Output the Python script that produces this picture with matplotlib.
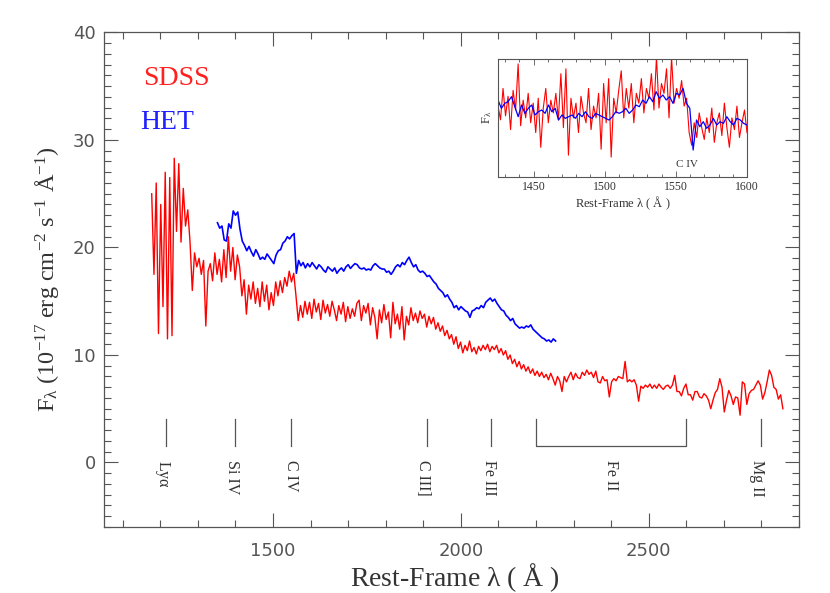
import numpy as np
import matplotlib
matplotlib.use("Agg")
import matplotlib.pyplot as plt
from matplotlib.ticker import MultipleLocator

# ---------------- data ----------------
SDSS_START = 1177.0   # Angstrom
SDSS_STEP = 6.0
sdss_flux = [
    # 1177 -
    25.0, 17.5, 26.0, 12.0, 24.0, 14.5, 27.0, 11.5, 26.5, 11.8,
    28.3, 21.5, 27.8, 20.5, 25.5, 22.0, 23.5, 20.5,
    # 1285 -
    16.0, 19.5, 18.2, 19.0, 17.5, 18.8, 12.7, 17.8, 18.5, 16.9,
    19.5, 17.5, 18.9, 16.8, 19.8, 17.2, 21.0, 17.8, 20.0, 17.0,
    19.3, 18.2,
    # 1417 -
    15.5, 17.0, 13.8, 16.5, 15.2, 16.8, 14.8, 16.2, 14.5, 16.8,
    15.0, 16.5, 14.2, 15.8, 14.6, 16.8, 15.5, 16.9, 15.8, 17.2,
    16.4, 17.8, 16.8, 17.6,
    # 1561 -
    15.5, 13.2, 14.6, 13.5, 15.0, 13.8, 14.9, 13.4, 15.2, 14.0,
    14.8, 13.3, 15.1, 13.9, 14.7, 13.6, 15.0, 14.2, 13.2, 14.6,
    13.8, 14.9, 13.1, 14.5, 13.4,
    # 1711 -
    14.3, 13.6, 14.8, 15.1, 13.2, 14.6, 13.9, 14.8, 12.8, 14.4,
    13.5, 11.5, 14.2, 13.0, 14.7, 13.3, 14.0, 11.6, 14.9, 12.9,
    13.8, 12.4, 14.5, 11.4, 13.6, 12.8, 14.4, 13.2, 13.9, 13.0,
    14.1, 13.4, 13.8, 12.6, 13.6, 12.9, 13.5, 12.4, 13.0, 12.2,
    # 1951 -
    12.7, 11.8, 12.3, 11.5, 11.9, 11.0, 11.7, 10.6, 11.2, 10.2,
    10.9, 10.4, 11.3, 10.3, 10.7, 10.1, 10.8, 10.4, 10.9, 10.5,
    11.0, 10.3, 10.8, 10.5, 10.9, 10.2, 10.6, 10.0, 10.4, 9.6,
    10.0, 9.2, 9.6, 8.9, 9.4, 8.7, 9.1, 8.5, 8.9, 8.3,
    8.7, 8.1, 8.5, 8.0, 8.4, 7.9, 8.2, 7.7, 8.3, 7.8,
    7.2, 8.0, 7.6,
    # 2269 -
    6.6, 8.0, 7.5, 8.0, 8.4, 7.7, 8.3, 7.9, 7.8, 8.4,
    8.1, 8.6, 8.2, 8.4, 7.9, 8.5, 7.5, 7.4, 8.0, 7.6,
    7.7, 6.1, 7.5, 7.8, 7.6, 8.0, 7.9, 7.8, 9.4, 7.5,
    7.7, 7.5, 7.7, 7.2, 5.7, 7.1, 6.9, 7.2, 7.0, 7.3,
    # 2509 -
    6.9, 7.2, 6.9, 7.3, 7.0, 6.8, 7.1, 7.2, 6.9, 7.2,
    8.1, 6.6, 6.6, 6.2, 6.9, 7.3, 6.3, 6.3, 5.8, 6.6,
    6.6, 6.1, 6.0, 6.4, 6.2, 5.8, 5.0, 5.8, 6.5, 6.8,
    7.8, 7.0, 4.7, 5.8, 6.7, 6.2, 5.4, 6.1, 6.0, 4.4,
    # 2749 -
    7.5, 7.3, 5.4, 6.4, 6.7, 6.8, 7.2, 7.6, 7.2, 5.9,
    6.5, 7.5, 8.6, 8.1, 7.0, 6.8, 5.9, 6.3, 5.0,
]

HET_START = 1352.0
HET_STEP = 6.0
het_flux = [
    # 1352 -
    22.3, 21.8, 22.0, 20.7, 20.6, 22.2, 21.8, 23.4, 23.0, 23.3,
    21.7, 20.6, 20.2, 19.7, 20.1, 19.6, 19.2, 19.8, 19.4, 18.9,
    19.1, 18.9, 19.4, 19.1, 18.8, 18.5, 19.3, 19.7, 19.8, 20.4,
    20.6, 21.0, 20.8, 21.1, 21.3, 17.6, 18.8, 18.3, 18.6, 18.1,
    18.5, 18.2, 18.6, 18.3, 18.0, 18.4, 18.2, 17.9, 17.7, 18.2,
    18.0, 17.8, 18.1, 17.6, 17.9, 18.1, 17.8, 18.2, 18.4,
    # 1706 -
    18.05, 18.3, 18.5, 18.4, 18.1, 18.0, 18.1, 17.9, 18.0, 17.9,
    18.3, 18.5, 18.3, 18.1, 18.0, 18.0, 17.7, 17.8, 17.5, 17.8,
    18.2, 18.4, 18.2, 18.6, 18.4, 18.8, 19.1, 18.6, 18.2, 18.4,
    17.9, 17.7, 17.8, 17.6, 17.3, 17.4, 17.1, 16.8, 16.6, 16.2,
    16.0, 15.8, 15.4, 15.6, 15.2, 14.9, 14.4, 14.6, 14.2, 14.5,
    14.3, 14.1, 14.0, 13.5, 14.1, 14.2, 14.4, 14.3, 14.6, 14.4,
    14.9, 15.1, 15.3, 15.0, 15.2, 14.8, 14.5, 14.2, 14.1, 13.7,
    13.5, 13.2, 13.4, 12.9, 12.7, 12.5, 12.6, 12.5, 12.7, 12.6,
    12.8, 12.4, 12.2, 12.0, 11.8, 11.6, 11.5, 11.3, 11.4, 11.2,
    11.5, 11.3,
]

# inset (normalised flux, 1425-1600 A)
inset_red = [
    1.12, 0.98, 1.30, 1.02, 1.22, 0.88, 1.28, 1.08, 1.55, 0.92,
    1.18, 1.00, 1.25, 0.95, 1.15, 0.85, 1.20, 0.70, 1.10, 1.30,
    0.95, 1.18, 1.05, 1.25, 0.98,
    1.45, 0.90, 1.50, 0.62, 1.20, 1.00, 1.15, 0.85, 1.22, 1.05,
    0.95, 1.30, 0.88, 1.12, 1.00, 1.25, 0.68, 1.35, 0.95, 1.40,
    0.60, 1.20, 1.05, 1.28, 1.48,
    1.00, 1.30, 1.10, 1.35, 0.95, 1.25, 1.15, 1.40, 1.05, 1.30,
    1.20, 1.45, 1.08, 1.62, 1.10, 1.35, 1.25, 1.50, 1.00, 1.62,
    1.15, 1.30, 1.20, 1.38, 1.12,
    1.20, 0.85, 0.72, 0.95, 0.80, 1.05, 0.90, 0.78, 1.00, 0.85,
    1.10, 0.75, 0.95, 1.05, 0.82, 1.15, 0.90, 0.70, 1.00, 0.88,
    1.12, 0.80, 0.95, 1.08, 0.85,
]
inset_blue = [
    1.182, 1.097, 1.148, 1.165, 1.216, 1.114, 1.012, 1.131, 1.046, 1.097,
    1.131, 1.029, 1.063, 1.080, 1.046, 1.131, 1.063, 1.097, 0.978, 1.029,
    0.995, 1.012, 1.029, 0.995, 1.046, 1.012, 1.063, 1.012, 0.995, 1.046,
    1.029, 1.012, 0.995, 0.978, 1.012, 1.063, 1.046, 1.063, 1.097, 1.046,
    1.080, 1.131, 1.114, 1.182, 1.148, 1.216, 1.165, 1.267, 1.199, 1.233,
    1.182, 1.216, 1.148, 1.250, 1.233, 1.301, 1.148, 1.097, 0.672, 0.978,
    0.910, 0.961, 0.893, 0.927, 0.995, 0.927, 0.961, 0.944, 1.012, 0.961,
    0.927, 0.995, 0.978, 0.944, 0.927,
]

line_names = [r"Ly$\alpha$", "Si IV", "C IV", "C III]", "Fe III", "Fe II", "Mg II"]
line_waves = [1216, 1400, 1549, 1909, 2080, None, 2800]
label_waves = [1207, 1392, 1549, 1900, 2074, 2400, 2788]
feii_range = [2200, 2600]

# ---------------- style ----------------
plt.rcParams['mathtext.fontset'] = 'custom'
plt.rcParams['mathtext.rm'] = 'Liberation Serif'
plt.rcParams['mathtext.it'] = 'Liberation Serif:italic'
plt.rcParams['mathtext.default'] = 'rm'
SERIF = 'Liberation Serif'
GREY = '#555555'
TXT = '#333333'

fig = plt.figure(figsize=(8.3, 5.93), dpi=100)
ax = fig.add_axes([0.1253, 0.1113, 0.8374, 0.8339])

sw = SDSS_START + SDSS_STEP * np.arange(len(sdss_flux))
hw = HET_START + HET_STEP * np.arange(len(het_flux))
ax.plot(sw, sdss_flux, color='#ff0000', lw=1.0)
ax.plot(hw, het_flux, color='#0000ff', lw=1.2)

ax.set_xlim(1050, 2900)
ax.set_ylim(-6, 40)
ax.xaxis.set_major_locator(MultipleLocator(500))
ax.xaxis.set_minor_locator(MultipleLocator(100))
ax.yaxis.set_major_locator(MultipleLocator(10))
ax.yaxis.set_minor_locator(MultipleLocator(1))
ax.tick_params(which='both', direction='in', top=True, right=True, color=GREY, width=0.8)
ax.tick_params(which='major', length=10)
ax.tick_params(which='minor', length=5)
ax.tick_params(axis='x', which='major', pad=11, labelsize=13, labelcolor='#555555')
ax.tick_params(axis='y', which='major', pad=6, labelsize=13, labelcolor='#555555')
ax.set_xticks([1500, 2000, 2500])
for s in ax.spines.values():
    s.set_color(GREY)
    s.set_linewidth(0.9)

ax.set_xlabel(r"Rest-Frame $\lambda$ ( Å )", fontsize=20, family=SERIF, color=TXT)
ax.xaxis.set_label_coords(0.505, -0.070)
ax.set_ylabel(r"F$_\lambda$ (10$^{-17}$ erg cm$^{-2}$ s$^{-1}$ Å$^{-1}$)",
              fontsize=17.5, family=SERIF, color=TXT)
ax.yaxis.set_label_coords(-0.062, 0.5)

ax.text(1154, 35.7, "SDSS", color='#ff2020', fontsize=20, family=SERIF, va='center', ha='left')
ax.text(1146, 31.6, "HET", color='#2020ff', fontsize=20, family=SERIF, va='center', ha='left')

# emission line markers
for name, lw_, lx in zip(line_names, line_waves, label_waves):
    if lw_ is not None:
        ax.plot([lw_, lw_], [4.0, 1.5], color=GREY, lw=0.9)
    ax.text(lx, 0.2, name, rotation=270, ha='center', va='top', fontsize=11.5,
            family=SERIF, color=TXT)
ax.plot([feii_range[0], feii_range[0], feii_range[1], feii_range[1]],
        [4.0, 1.5, 1.5, 4.0], color=GREY, lw=0.9)

# ---------------- inset ----------------
ai = fig.add_axes([0.600, 0.702, 0.300, 0.1985])
iw_r = np.linspace(1425, 1600, len(inset_red))
iw_b = np.linspace(1425, 1600, len(inset_blue))
ai.plot(iw_r, inset_red, color='#ff0000', lw=0.8)
ai.plot(iw_b, inset_blue, color='#0000ff', lw=0.9)
ai.set_xlim(1425, 1600)
ai.set_ylim(0.4, 1.6)
ai.set_yticks([])
ai.xaxis.set_major_locator(MultipleLocator(50))
ai.xaxis.set_minor_locator(MultipleLocator(10))
ai.tick_params(which='both', direction='in', top=True, color=GREY, width=0.6)
ai.tick_params(which='major', length=4, labelsize=8.5, pad=3, labelcolor=TXT)
ai.tick_params(which='minor', length=2)
for lab in ai.get_xticklabels():
    lab.set_family(SERIF)
for s in ai.spines.values():
    s.set_color(GREY)
    s.set_linewidth(0.8)
ai.set_xlabel(r"Rest-Frame $\lambda$ ( Å )", fontsize=9, family=SERIF, color=TXT, labelpad=1)
ai.set_ylabel(r"F$_\lambda$", fontsize=9, family=SERIF, color=TXT, labelpad=3)
ai.text(1558, 0.52, "C IV", fontsize=8, family=SERIF, color=TXT, ha='center', va='center')

fig.savefig("out.png", dpi=100)
